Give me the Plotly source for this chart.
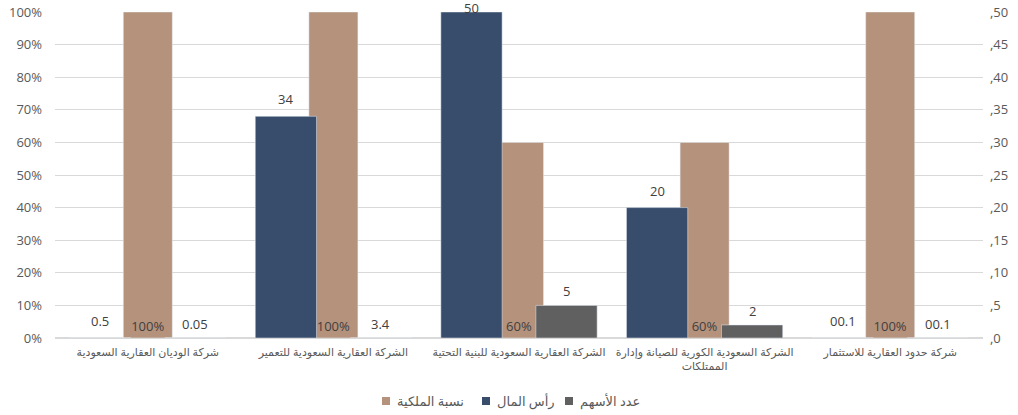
import plotly.graph_objects as go

categories = [
    "شركة الوديان العقارية السعودية",
    "الشركة العقارية السعودية للتعمير",
    "الشركة العقارية السعودية للبنية التحتية",
    "الشركة السعودية الكورية للصيانة وإدارة<br>الممتلكات",
    "شركة حدود العقارية للاستثمار",
]
ownership = [1.0, 1.0, 0.6, 0.6, 1.0]
ownership_labels = ["100%", "100%", "60%", "60%", "100%"]
capital = [0.0, 34, 50, 20, 0.0]
capital_labels = ["0.5", "34", "50", "20", "00.1"]
shares = [0.0, 0.0, 5, 2, 0.0]
shares_labels = ["0.05", "3.4", "5", "2", "00.1"]
right_ticks = [0, 5, 10, 15, 20, 25, 30, 35, 40, 45, 50]
right_ticktext = ["," + str(v) for v in right_ticks]
series_names = ["نسبة الملكية", "رأس المال", "عدد الأسهم"]

TAN = "#B5927C"
BLUE = "#374D6B"
GRAY = "#606060"
TXT = "#595959"
LBL = "#404040"
FONT = "Open Sans, DejaVu Sans, sans-serif"

W, H = 1018, 415
ML, MR, MT, MB = 55, 35, 12, 77
PLOT_H = H - MT - MB
Y2MAX = 50

x = list(range(len(categories)))

fig = go.Figure()
fig.add_trace(go.Bar(
    x=x, y=ownership, name=series_names[0], marker_color=TAN,
    width=0.264, offset=-0.132,
    text=ownership_labels, textposition="inside", insidetextanchor="start",
    textfont=dict(color=LBL, size=13, family=FONT), constraintext="none",
    yaxis="y", cliponaxis=False,
))
fig.add_trace(go.Bar(
    x=x, y=capital, name=series_names[1], marker_color=BLUE,
    width=0.33, offset=-0.421, yaxis="y2",
))
fig.add_trace(go.Bar(
    x=x, y=shares, name=series_names[2], marker_color=GRAY,
    width=0.33, offset=0.091, yaxis="y2",
))

annotations = []


def value_labels(vals, labels, centre_offset, shift):
    for xi, v, t in zip(x, vals, labels):
        px_above_top = (Y2MAX - v) / Y2MAX * PLOT_H + MT
        s = min(shift, px_above_top - 8)
        annotations.append(dict(
            x=xi + centre_offset, y=v, xref="x", yref="y2", text=t,
            showarrow=False, yanchor="middle", xanchor="center", yshift=s,
            font=dict(color=LBL, size=13, family=FONT), borderpad=0,
        ))


value_labels(capital, capital_labels, -0.421 + 0.165, 17)
value_labels(shares, shares_labels, 0.091 + 0.165, 14)

# legend (drawn manually to match spacing)
legend_colors = [TAN, BLUE, GRAY]
legend_sq_x = [386, 486, 569]
LEG_Y = 401
shapes = []
for name, col, cx in zip(series_names, legend_colors, legend_sq_x):
    shapes.append(dict(type="rect", xref="paper", yref="paper",
                       x0=(cx - 4 - ML) / (W - ML - MR), x1=(cx + 4 - ML) / (W - ML - MR),
                       y0=(H - MB - (LEG_Y + 4)) / PLOT_H, y1=(H - MB - (LEG_Y - 4)) / PLOT_H,
                       fillcolor=col, line=dict(width=0)))
    annotations.append(dict(
        x=(cx + 9 - ML) / (W - ML - MR), y=(H - MB - LEG_Y) / PLOT_H,
        xref="paper", yref="paper", text=name, showarrow=False,
        xanchor="left", yanchor="middle", font=dict(size=13, color=TXT, family=FONT),
    ))

fig.update_layout(
    width=W, height=H,
    margin=dict(l=ML, r=MR, t=MT, b=MB, autoexpand=False),
    barmode="overlay",
    plot_bgcolor="white", paper_bgcolor="white",
    font=dict(family=FONT, color=TXT, size=13),
    showlegend=False,
    annotations=annotations,
    shapes=shapes,
    xaxis=dict(
        tickmode="array", tickvals=x, ticktext=categories,
        range=[-0.5, len(categories) - 0.5],
        showgrid=False, zeroline=False, showline=False,
        ticks="", tickfont=dict(size=11, color=TXT),
        automargin=False, ticklabelstandoff=6,
    ),
    yaxis=dict(
        range=[0, 1], dtick=0.1, tickformat=".0%",
        showgrid=True, gridcolor="#D9D9D9", gridwidth=1,
        zeroline=True, zerolinecolor="#D9D9D9",
        tickfont=dict(size=13, color=TXT), ticks="",
        automargin=False, ticklabelstandoff=12,
    ),
    yaxis2=dict(
        range=[0, Y2MAX], overlaying="y", side="right",
        tickmode="array", tickvals=right_ticks, ticktext=right_ticktext,
        showgrid=False, zeroline=False,
        tickfont=dict(size=13, color=TXT), ticks="",
        automargin=False, ticklabelstandoff=6,
    ),
)

fig.write_html("out.html")
